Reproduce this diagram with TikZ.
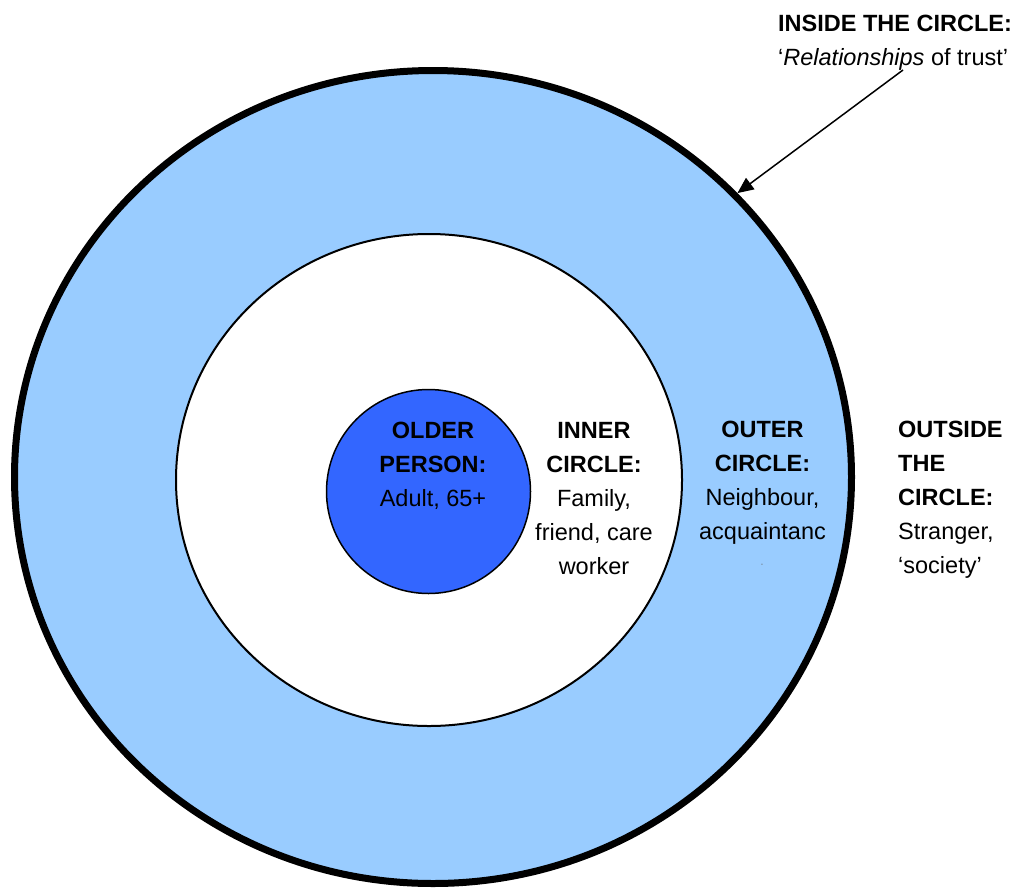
\documentclass[tikz,border=0pt]{standalone}
\usepackage{fontspec}
\setmainfont{Liberation Sans}
\usetikzlibrary{arrows.meta,shapes.geometric}
\definecolor{ringblue}{HTML}{99CCFF}
\definecolor{coreblue}{HTML}{3366FF}
\begin{document}
\begin{tikzpicture}[x=1pt,y=-1pt,
  lbl/.style={font=\fontsize{23.5}{34}\selectfont, inner sep=0pt, align=center, anchor=north},
  lbll/.style={lbl, align=left, anchor=north west},
  ring/.style={ellipse, draw=black, inner sep=0pt}]
\useasboundingbox (0,0) rectangle (1022,889);
\node[ring, line width=7pt, fill=ringblue, minimum width=837pt, minimum height=813pt] (outer) at (433,477) {};
\node[ring, line width=2pt, fill=white, minimum width=506pt, minimum height=492pt] (inner) at (429,480) {};
\node[circle, draw=black, line width=1.5pt, fill=coreblue, inner sep=0pt, minimum size=204pt] (core) at (428.5,491.5) {};
\node[lbl] (oldertxt) at (433,422) {\textbf{OLDER}\\\textbf{PERSON:}\\Adult, 65+};
\node[lbl] (innertxt) at (594,422) {\textbf{INNER}\\\textbf{CIRCLE:}\\Family,\\friend, care\\worker};
\node[lbl] (outertxt) at (762.5,421) {\textbf{OUTER}\\\textbf{CIRCLE:}\\Neighbour,\\acquaintanc};
\node[inner sep=0pt, font=\fontsize{7}{7}\selectfont, text=black!60] (mark) at (762,565) {-};
\node[lbll] (outsidetxt) at (898,421) {\textbf{OUTSIDE}\\\textbf{THE}\\\textbf{CIRCLE:}\\Stranger,\\‘society’};
\node[lbll] (insidetxt) at (778,15) {\textbf{INSIDE THE CIRCLE:}\\‘\textit{Relationships} of trust’};
\coordinate (arrowstart) at (903,70);
\draw[line width=1.5pt, -{Triangle[length=16pt,width=14pt]}] (arrowstart) -- (outer.43.6);
\end{tikzpicture}
\end{document}
